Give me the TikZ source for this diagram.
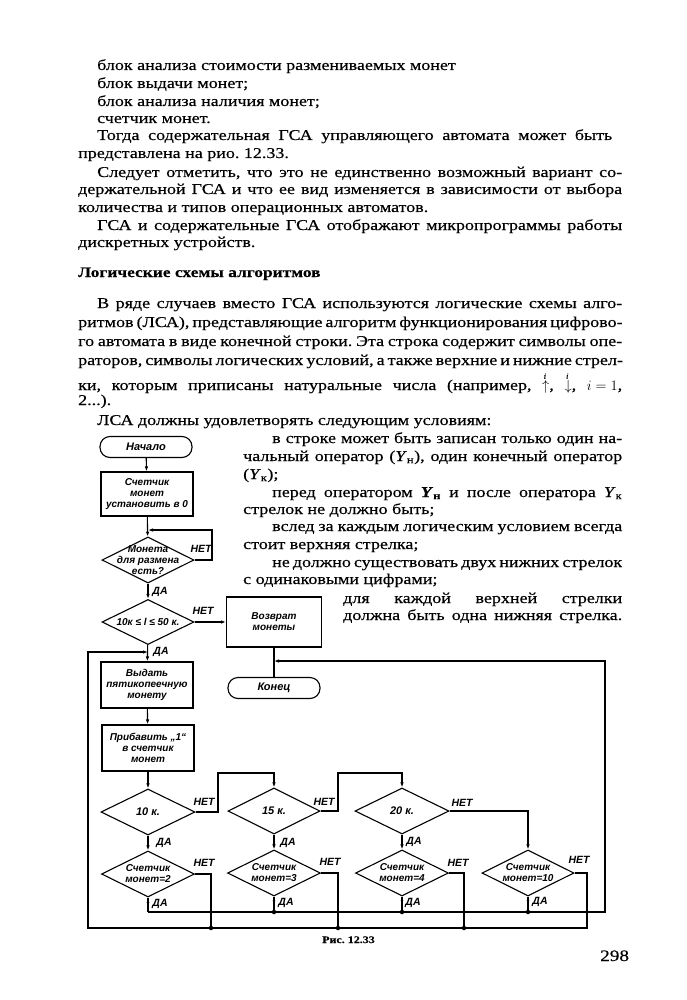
\documentclass[tikz,border=0pt]{standalone}
\usepackage{fontspec}
\setmainfont{Liberation Serif}[FakeStretch=1.2,FakeBold=0.35]
\newfontfamily\chartfont{Liberation Sans}
\usetikzlibrary{shapes.geometric,arrows.meta,decorations.markings}
\frenchspacing
\newcommand{\idxarrow}[1]{\rlap{\hspace{1.5pt}\raisebox{11.5pt}{\fontsize{7.5}{7.5}\selectfont\textit{i}}}$#1$}

\tikzset{
  txt/.style={anchor=base west,inner sep=0pt,font=\fontsize{15}{17}\selectfont},
  box/.style={draw,line width=1.1pt,minimum width=92pt,minimum height=46pt,inner sep=1pt,align=center,font=\chartfont\bfseries\itshape\fontsize{10}{11}\selectfont},
  term/.style={box,rounded corners=10pt,minimum height=21pt},
  dia/.style={draw,line width=1.1pt,diamond,minimum width=92pt,minimum height=46pt,inner sep=0pt},
  chart/.style={align=center,inner sep=0pt,font=\chartfont\bfseries\itshape\fontsize{10}{11}\selectfont},
  big/.style={chart,font=\chartfont\bfseries\itshape\fontsize{11}{11}\selectfont},
  ans/.style={inner sep=0pt,font=\chartfont\bfseries\itshape\fontsize{10.5}{10.5}\selectfont},
  arr/.style={-{Latex[length=5pt,width=3.5pt]}},
  midarr/.style={postaction={decorate},decoration={markings,mark=at position 0.6 with {\arrow{Latex[length=4pt,width=3pt]}}}},
  conn/.style={line width=1.1pt},
  dot/.style={circle,fill,inner sep=0pt,minimum size=4.5pt},
}

\begin{document}
\begin{tikzpicture}[x=1pt,y=-1pt]
\useasboundingbox (0,0) rectangle (686,1000);

% page text
\node[txt] (l1) at (97,70) {блок анализа стоимости размениваемых монет};
\node[txt] (l2) at (97,88) {блок выдачи монет;};
\node[txt] (l3) at (97,106) {блок анализа наличия монет;};
\node[txt] (l4) at (97,123) {счетчик монет.};
\node[txt] (l5) at (97,140) {\makebox[515pt][s]{Тогда содержательная ГСА управляющего автомата может быть}};
\node[txt] (l6) at (78,158) {представлена на рио. 12.33.};
\node[txt] (l7) at (97,177) {\makebox[525pt][s]{Следует отметить, что это не единственно возможный вариант со-}};
\node[txt] (l8) at (78,194) {\makebox[544pt][s]{держательной ГСА и что ее вид изменяется в зависимости от выбора}};
\node[txt] (l9) at (78,212) {количества и типов операционных автоматов.};
\node[txt] (l10) at (97,230) {\makebox[525pt][s]{ГСА и содержательные ГСА отображают микропрограммы работы}};
\node[txt] (l11) at (78,247) {дискретных устройств.};
\node[txt,font=\bfseries\fontsize{14.5}{17}\selectfont] (hd) at (78,277) {Логические схемы алгоритмов};
\node[txt] (l13) at (97,308) {\makebox[525pt][s]{В ряде случаев вместо ГСА используются логические схемы алго-}};
\node[txt] (l14) at (78,327) {\makebox[544pt][s]{ритмов (ЛСА), представляющие алгоритм функционирования цифрово-}};
\node[txt] (l15) at (78,346) {\makebox[544pt][s]{го автомата в виде конечной строки. Эта строка содержит символы опе-}};
\node[txt] (l16) at (78,365) {\makebox[544pt][s]{раторов, символы логических условий, а также верхние и нижние стрел-}};
\node[txt] (l17) at (78,390) {\makebox[544pt][s]{ки, которым приписаны натуральные числа (например, \idxarrow{\uparrow}, \idxarrow{\downarrow}, \mbox{$i=1$},}};
\node[txt] (l18) at (78,405) {2...).};
\node[txt] (l19) at (97,425) {ЛСА должны удовлетворять следующим условиям:};
\node[txt] (l20) at (272,443) {\makebox[350pt][s]{в строке может быть записан только один на-}};
\node[txt] (l21) at (243,461) {\makebox[379pt][s]{чальный оператор (\textit{Y}\textsubscript{н}), один конечный оператор}};
\node[txt] (l22) at (243,479) {(\textit{Y}\textsubscript{к});};
\node[txt] (l23) at (272,497) {\makebox[350pt][s]{перед оператором \textbf{\textit{Y}\textsubscript{н}} и после оператора \textit{Y}\textsubscript{к}}};
\node[txt] (l24) at (243,514) {стрелок не должно быть;};
\node[txt] (l25) at (272,531) {\makebox[350pt][s]{вслед за каждым логическим условием всегда}};
\node[txt] (l26) at (243,549) {стоит верхняя стрелка;};
\node[txt] (l27) at (272,567) {\makebox[350pt][s]{не должно существовать двух нижних стрелок}};
\node[txt] (l28) at (243,584) {с одинаковыми цифрами;};
\node[txt] (l29) at (343,603) {\makebox[279pt][s]{для каждой верхней стрелки}};
\node[txt] (l30) at (343,620) {\makebox[279pt][s]{должна быть одна нижняя стрелка.}};

% flowchart
\node[term,font=\chartfont\bfseries\itshape\fontsize{11}{11}\selectfont] (start) at (146,447) {Начало};
\node[box,minimum height=44pt] (reset) at (147,494) {Счетчик\\монет\\установить в 0};
\node[dia] (have) at (148,560) [label={[chart]center:{Монета\\для размена\\есть?}}] {};
\node[dia,minimum height=45pt] (range) at (148,622) [label={[chart]center:{10к ≤ l ≤ 50 к.}}] {};
\node[box,minimum width=95pt,minimum height=50pt] (back) at (274,622) {Возврат\\монеты};
\node[term,font=\chartfont\bfseries\itshape\fontsize{11}{11}\selectfont] (stop) at (274,688) {Конец};
\node[box] (give) at (147,685) {Выдать\\пятикопеечную\\монету};
\node[box] (add) at (148,748) {Прибавить „1“\\в счетчик\\монет};
\node[dia,minimum width=94pt] (c10) at (148,812) [label={[big]center:{10 к.}}] {};
\node[dia] (c15) at (274,811) [label={[big]center:{15 к.}}] {};
\node[dia,minimum width=94pt] (c20) at (402,811) [label={[big]center:{20 к.}}] {};
\node[dia,minimum width=93pt] (n2) at (148,874) [label={[chart]center:{Счетчик\\монет=2}}] {};
\node[dia,minimum width=93pt] (n3) at (274,873) [label={[chart]center:{Счетчик\\монет=3}}] {};
\node[dia,minimum width=93pt] (n4) at (402,873) [label={[chart]center:{Счетчик\\монет=4}}] {};
\node[dia] (n10) at (528,873) [label={[chart]center:{Счетчик\\монет=10}}] {};

\coordinate (j1) at (148,530);
\coordinate (j2) at (148,652);
\coordinate (j3) at (274,661);
\node[dot] (p1) at (211,928) {};
\node[dot] (p2) at (338,928) {};
\node[dot] (p3) at (464,928) {};
\node[dot] (q2) at (274,912) {};
\node[dot] (q3) at (402,912) {};
\node[dot] (q4) at (528,912) {};

\draw[conn,arr] (start) -- (reset);
\draw[conn,arr] (reset) -- (have);
\draw[conn,arr] (have.east) -| (212,530) -- (j1);
\draw[conn,arr] (have) -- (range);
\draw[conn,arr] (range) -- (back);
\draw[conn,arr] (range) -- (give);
\draw[conn] (back) -- (stop);
\draw[conn,arr] (give) -- (add);
\draw[conn,arr] (add) -- (c10);
\draw[conn,arr] (c10.east) -| (218,773) -| (c15.north);
\draw[conn,arr] (c15.east) -| (338,773) -| (c20.north);
\draw[conn,arr] (c20.east) -| (n10.north);
\draw[conn,arr] (c10) -- (n2);
\draw[conn,arr] (c15) -- (n3);
\draw[conn,arr] (c20) -- (n4);
\draw[conn] (n2.east) -| (p1);
\draw[conn] (n3.east) -| (p2);
\draw[conn] (n4.east) -| (p3);
\draw[conn,arr] (n10.east) -| (587,928) -- (88,928) |- (j2);
\draw[conn,midarr] (n2.south) -- (148,912);
\draw[conn,midarr] (n3.south) -- (q2);
\draw[conn,midarr] (n4.south) -- (q3);
\draw[conn,midarr] (n10.south) -- (q4);
\draw[conn,arr] (148,912) -- (605,912) -- (605,661) -- (j3);

\node[ans] (a1) at (201,549) {НЕТ};
\node[ans] (a2) at (160,592) {ДА};
\node[ans] (a3) at (203,611) {НЕТ};
\node[ans] (a4) at (161,652) {ДА};
\node[ans] (a5) at (204,802) {НЕТ};
\node[ans] (a6) at (324,802) {НЕТ};
\node[ans] (a7) at (462,803) {НЕТ};
\node[ans] (a8) at (164,843) {ДА};
\node[ans] (a9) at (288,843) {ДА};
\node[ans] (a10) at (414,842) {ДА};
\node[ans] (a11) at (204,863) {НЕТ};
\node[ans] (a12) at (330,862) {НЕТ};
\node[ans] (a13) at (458,863) {НЕТ};
\node[ans] (a14) at (579,860) {НЕТ};
\node[ans] (a15) at (160,904) {ДА};
\node[ans] (a16) at (286,903) {ДА};
\node[ans] (a17) at (413,903) {ДА};
\node[ans] (a18) at (540,902) {ДА};

\node[anchor=base west,inner sep=0pt,font=\bfseries\fontsize{10}{10}\selectfont] (cap) at (322,943) {Рис. 12.33};
\node[anchor=base west,inner sep=0pt,font=\fontsize{16}{16}\selectfont] (pg) at (600,961) {298};
\end{tikzpicture}
\end{document}
